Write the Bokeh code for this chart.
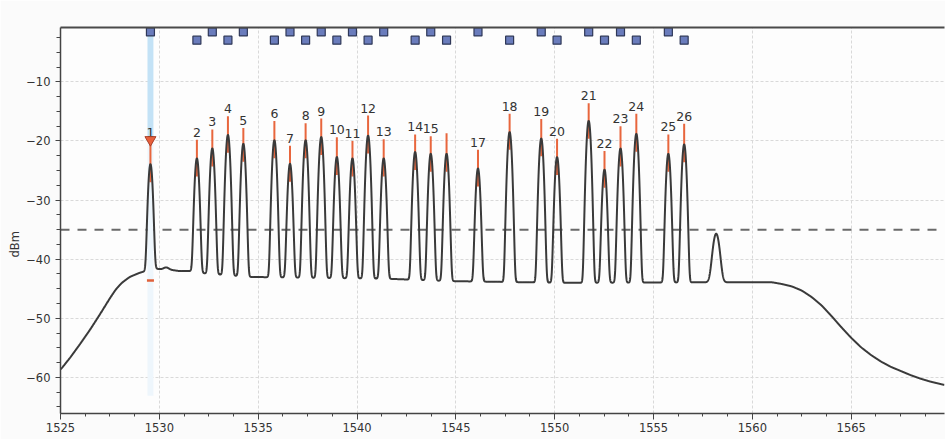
import numpy as np
from bokeh.plotting import figure
from bokeh.models import Range1d, SingleIntervalTicker, LinearAxis, FixedTicker, Span, Title
from bokeh.embed import file_html
from bokeh.resources import INLINE
from bokeh.core.properties import value

# ---------------- data ----------------
channel_labels = ["1", "2", "3", "4", "5", "6", "7", "8", "9", "10", "11", "12", "13",
                  "14", "15", "", "17", "18", "19", "20", "21", "22", "23", "24", "25", "26"]
channel_nm = [1529.55, 1531.90, 1532.68, 1533.47, 1534.25, 1535.82, 1536.61, 1537.40,
              1538.19, 1538.98, 1539.77, 1540.56, 1541.35, 1542.94, 1543.73, 1544.53,
              1546.12, 1547.72, 1549.32, 1550.12, 1551.72, 1552.52, 1553.33, 1554.13,
              1555.75, 1556.55]
peak_dbm = [-24.0, -23.0, -21.3, -19.0, -20.5, -19.9, -23.9, -19.9, -19.35, -22.75,
            -23.0, -19.1, -23.0, -21.9, -22.2, -22.2, -24.7, -18.5, -19.6, -22.75,
            -16.6, -24.9, -21.3, -18.8, -22.2, -20.6]
marker_top_dbm = [-19.8, -19.8, -18.05, -15.8, -17.8, -16.6, -20.8, -17.0, -16.2, -19.35,
                  -20.0, -15.7, -19.7, -18.9, -19.2, -18.7, -21.5, -15.4, -16.3, -19.6,
                  -13.6, -21.7, -17.5, -15.4, -18.9, -17.1]
marker_row = [0, 1, 0, 1, 0, 1, 0, 1, 0, 1, 0, 1, 0, 1, 0, 1, 0, 1, 0, 1, 0, 1, 0, 1, 0, 1]
row_dbm = [-1.55, -2.95]

osc_nm = 1558.17
osc_dbm = -36.4

floor_nm = [1525.0, 1525.5, 1526.0, 1526.5, 1527.0, 1527.5, 1527.8, 1528.1, 1528.5, 1529.0, 1529.3,
            1529.8, 1530.1, 1530.35, 1530.6, 1531.0, 1531.7, 1532.0, 1534.6, 1541.5, 1544.7,
            1550.5, 1558.0, 1561.0, 1561.5, 1562.0, 1562.5, 1563.0, 1563.5, 1564.0, 1564.5,
            1565.0, 1565.5, 1566.0, 1566.5, 1567.0, 1567.5, 1568.0, 1568.5, 1569.0, 1569.75]
floor_dbm = [-58.7, -56.6, -54.3, -51.9, -49.3, -46.6, -45.1, -44.0, -43.0, -42.3, -42.0,
             -41.6, -41.7, -41.3, -41.8, -42.0, -42.0, -42.3, -43.0, -43.3, -43.7,
             -44.0, -43.9, -43.9, -44.2, -44.6, -45.3, -46.4, -47.8, -49.6, -51.5,
             -53.3, -54.9, -56.2, -57.3, -58.2, -58.9, -59.6, -60.2, -60.7, -61.3]

threshold_dbm = -35.0
cursor_floor_dbm = -43.6

x_start, x_end = 1525.0, 1569.72
y_start, y_end = -66.1, -0.8

# ---------------- build trace ----------------
sigma = 0.08
sigma_osc = 0.14
wl = np.linspace(x_start, x_end, 6000)
floor = np.interp(wl, floor_nm, floor_dbm)
step = wl[1] - wl[0]
kx = np.arange(-60, 61) * step
kern = np.exp(-kx ** 2 / (2 * 0.06 ** 2))
kern /= kern.sum()
padded = np.concatenate([np.full(60, floor[0]), floor, np.full(60, floor[-1])])
floor = np.convolve(padded, kern, mode="valid")
lin = 10 ** (floor / 10.0)
for c, pk in zip(channel_nm, peak_dbm):
    lin = lin + 10 ** (pk / 10.0) * np.exp(-((wl - c) ** 2) / (2 * sigma ** 2))
lin = lin + 10 ** (osc_dbm / 10.0) * np.exp(-((wl - osc_nm) ** 2) / (2 * sigma_osc ** 2))
trace = 10 * np.log10(lin)

# ---------------- figure ----------------
p = figure(width=945, height=439, x_range=Range1d(x_start, x_end), y_range=Range1d(y_start, y_end),
           output_backend="svg", toolbar_location=None,
           min_border_left=60, min_border_right=1, min_border_top=27, min_border_bottom=26,
           background_fill_color="#fdfdfd", border_fill_color="#fbfbfb")
p.outline_line_color = None

font = "DejaVu Sans"
for ax in (p.xaxis[0], p.yaxis[0]):
    ax.axis_line_color = "#444444"
    ax.axis_line_width = 1.5
    ax.major_tick_line_color = "#444444"
    ax.minor_tick_line_color = "#444444"
    ax.major_tick_in = 0
    ax.minor_tick_in = 0
    ax.major_label_text_font = font
    ax.major_label_text_font_size = "11.5px"
    ax.major_label_text_color = "#333333"
p.xaxis.ticker = SingleIntervalTicker(interval=5, num_minor_ticks=4)
p.yaxis.ticker = SingleIntervalTicker(interval=10, num_minor_ticks=4)
p.xaxis.major_tick_out = 6
p.xaxis.minor_tick_out = 3
p.xaxis.major_label_standoff = 3
p.yaxis.major_tick_out = 5
p.yaxis.minor_tick_out = 4
p.yaxis.major_label_standoff = 5

top_axis = LinearAxis(ticker=FixedTicker(ticks=[]), major_label_text_font_size="0px",
                      axis_line_color="#4a4a4a", axis_line_width=2,
                      major_tick_line_color=None, minor_tick_line_color=None)
p.add_layout(top_axis, "above")

# y axis title, shifted down as in the reference
p.add_layout(Title(text="dBm", align="left", offset=156, text_font=font, text_font_size="11.5px",
                   text_font_style="normal", text_color="#333333", standoff=4), "left")

for g in (p.xgrid[0], p.ygrid[0]):
    g.grid_line_color = "#d9d9d9"
    g.grid_line_dash = "3 2"
    g.grid_line_width = 1

# cursor band at channel 1
p.quad(left=[channel_nm[0] - 0.15], right=[channel_nm[0] + 0.15], bottom=[marker_top_dbm[0]], top=[y_end],
       fill_color="#c3e2f6", line_color=None)
p.quad(left=[channel_nm[0] - 0.15], right=[channel_nm[0] + 0.15], bottom=[y_start + 3], top=[marker_top_dbm[0]],
       fill_color="#eef6fc", line_color=None)

p.add_layout(Span(location=threshold_dbm, dimension="width", line_color="#6a6a6a",
                  line_dash="9 8", line_width=2, level="underlay"))

# orange peak markers
seg_bottom = [pk - 3 for pk in peak_dbm]
p.segment(x0=channel_nm, y0=seg_bottom, x1=channel_nm, y1=marker_top_dbm,
          line_color="#e8663d", line_width=2)

# spectrum trace
p.line(wl, trace, line_color="#3a3a3a", line_width=2)

# labels
p.text(x=channel_nm, y=marker_top_dbm, text=channel_labels, text_align="center", text_baseline="bottom",
       y_offset=-3, text_font=value(font), text_font_size="12.5px", text_color="#333333")

# top channel markers
marker_y = [row_dbm[r] for r in marker_row]
p.scatter(x=channel_nm, y=marker_y, marker="square", size=8, fill_color="#6a7cbc",
          line_color="#2f3858", line_width=1.2)

# cursor markers for channel 1
p.scatter(x=[channel_nm[0]], y=[marker_top_dbm[0]], marker="inverted_triangle", size=11,
          fill_color="#e8603c", line_color="#a8402a", line_width=1)
p.scatter(x=[channel_nm[0]], y=[cursor_floor_dbm], marker="dash", size=7,
          line_color="#e0603a", line_width=2.5)

open("out.html", "w").write(file_html(p, INLINE))
